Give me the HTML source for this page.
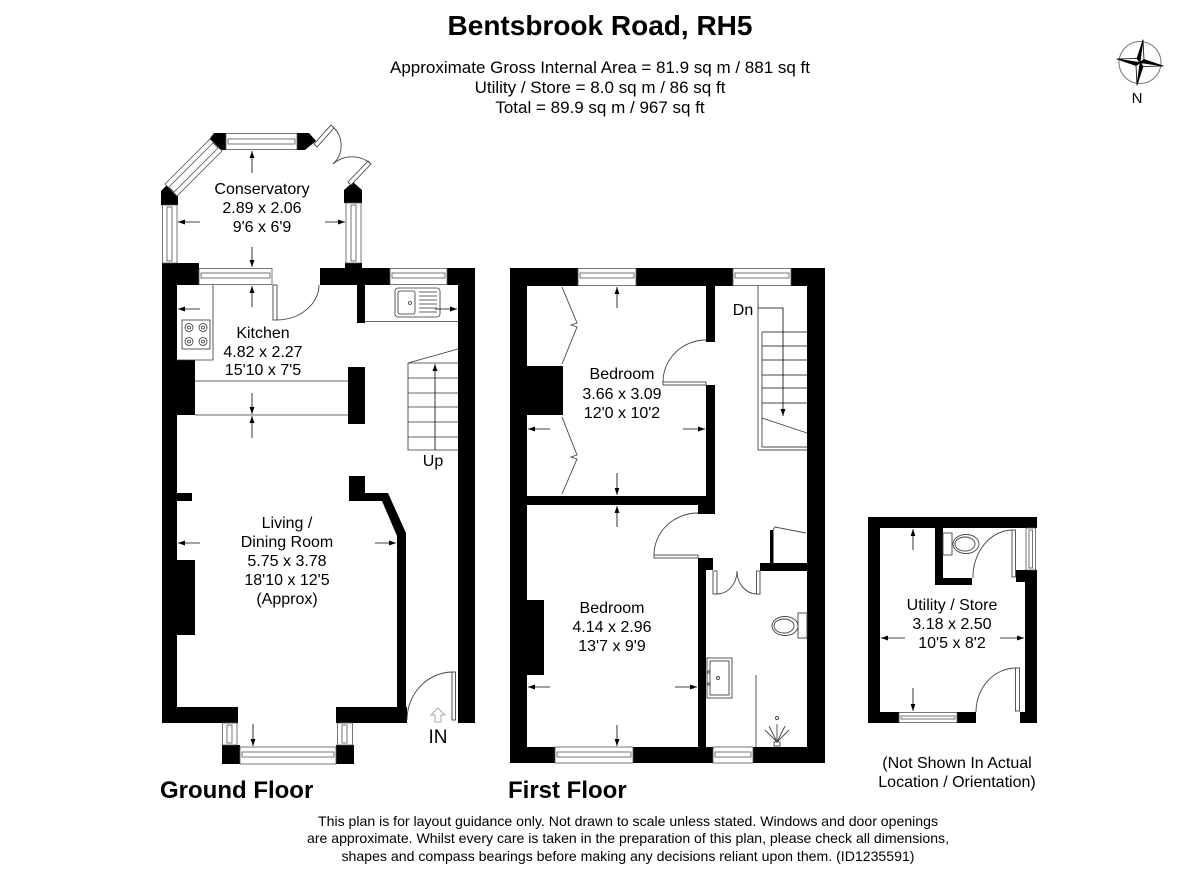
<!DOCTYPE html>
<html><head><meta charset="utf-8"><style>
html,body{margin:0;padding:0;background:#fff;}
svg{display:block;}
text{font-family:"Liberation Sans",Arial,sans-serif;fill:#000;}
</style></head><body>
<svg width="1200" height="879" viewBox="0 0 1200 879" xmlns="http://www.w3.org/2000/svg">
<defs>
<marker id="ar" viewBox="0 0 10 10" refX="10" refY="5" markerWidth="7" markerHeight="7" orient="auto" markerUnits="userSpaceOnUse"><path d="M0,1.5 L10,5 L0,8.5z" fill="#000"/></marker>
</defs>
<rect width="1200" height="879" fill="#fff"/>

<!-- Header -->
<text x="600" y="35" font-size="28" font-weight="bold" text-anchor="middle">Bentsbrook Road, RH5</text>
<text x="600" y="73" font-size="17" text-anchor="middle">Approximate Gross Internal Area = 81.9 sq m / 881 sq ft</text>
<text x="600" y="93" font-size="17" text-anchor="middle">Utility / Store = 8.0 sq m / 86 sq ft</text>
<text x="600" y="113" font-size="17" text-anchor="middle">Total = 89.9 sq m / 967 sq ft</text>

<!-- Compass -->
<circle cx="1140" cy="62.5" r="21" fill="none" stroke="#777" stroke-width="1"/>
<g stroke="#000" stroke-width="0.8" stroke-linejoin="round">
<polygon points="1140,62.5 1143,40 1137,58.5" fill="#000"/>
<polygon points="1140,62.5 1143,40 1144,59.5" fill="#fff"/>
<polygon points="1140,62.5 1163,66 1144,59.5" fill="#000"/>
<polygon points="1140,62.5 1163,66 1143,66.5" fill="#fff"/>
<polygon points="1140,62.5 1137,85 1143,66.5" fill="#000"/>
<polygon points="1140,62.5 1137,85 1136,65.5" fill="#fff"/>
<polygon points="1140,62.5 1117,59 1136,65.5" fill="#000"/>
<polygon points="1140,62.5 1117,59 1137,58.5" fill="#fff"/>
</g>
<text x="1137" y="103" font-size="15" text-anchor="middle">N</text>

<!-- ================= GROUND FLOOR ================= -->
<g fill="#000">
<polygon points="214,133 226,133 226,150 220,150 208,141"/>
<polygon points="297,133 309,133 316,141 305,150 297,150"/>
<polygon points="161,205 161,191 170,182 178,190 178,205"/>
<polygon points="344,203 344,190 353,182 362,190 362,203"/>
<rect x="162" y="263" width="37" height="22"/>
<rect x="162" y="263" width="15" height="460"/>
<rect x="320" y="268" width="70" height="17"/>
<rect x="345" y="263" width="17" height="6"/>
<rect x="447" y="268" width="28" height="17"/>
<rect x="458" y="268" width="17" height="455"/>
<rect x="357" y="285" width="8" height="38"/>
<rect x="162" y="360" width="33" height="55"/>
<rect x="348" y="367" width="17" height="57"/>
<polygon points="349,476 365,476 365,493 388,493 406,533 406,707 397,707 397,536 382,501 349,501"/>
<rect x="162" y="493" width="30" height="8"/>
<rect x="162" y="560" width="33" height="75"/>
<rect x="162" y="707" width="76" height="16"/>
<rect x="336" y="707" width="71" height="16"/>
<rect x="222" y="745" width="18" height="19"/>
<rect x="336" y="745" width="18" height="19"/>
</g>
<g fill="#fff" stroke="#555" stroke-width="0.8">
<rect x="226" y="133.5" width="71" height="16"/>
<rect x="228" y="139" width="67" height="5"/>
<polygon points="210,139 222,151 177,196 165,184"/>
<polygon points="213,143 218,148 174,192 169,187"/>
<rect x="162.5" y="205" width="14.5" height="58"/>
<rect x="167" y="207" width="5" height="54"/>
<rect x="346" y="203" width="15" height="60"/>
<rect x="351" y="205" width="5" height="56"/>
<rect x="199" y="268.5" width="73" height="16"/>
<rect x="201" y="273" width="69" height="5"/>
<rect x="390" y="268.5" width="57" height="16"/>
<rect x="392" y="273" width="53" height="5"/>
<rect x="222.5" y="723" width="14.5" height="22"/>
<rect x="227" y="725" width="5" height="18"/>
<rect x="337.5" y="723" width="15" height="22"/>
<rect x="342" y="725" width="5" height="18"/>
<rect x="240" y="747" width="96" height="17"/>
<rect x="242" y="752" width="92" height="5"/>
</g>
<g fill="none" stroke="#444" stroke-width="0.9">
<polygon points="314,144 331,125 334,128 317,147" fill="#fff"/>
<path d="M333,127 A25,25 0 0 1 334,163"/>
<polygon points="348,182 368,161 371,164 351,185" fill="#fff"/>
<path d="M370,163 A29,29 0 0 0 333,164"/>
<rect x="273" y="285" width="4" height="35" fill="#fff"/>
<path d="M277,320 A43,35 0 0 0 319,285"/>
<rect x="452" y="672" width="3.5" height="48" fill="#fff"/>
<path d="M452,672 A46,48 0 0 0 407,720"/>
</g>
<polygon points="438,708 445,715 441,715 441,722 435,722 435,715 431,715" fill="#fff" stroke="#aaa" stroke-width="1"/>
<g fill="none" stroke="#333" stroke-width="0.8">
<polyline points="177,360 213,360 213,285"/>
<rect x="182" y="320" width="28" height="29"/>
<circle cx="189" cy="327.5" r="4"/><circle cx="189" cy="327.5" r="1.5"/>
<circle cx="203" cy="327.5" r="4"/><circle cx="203" cy="327.5" r="1.5"/>
<circle cx="189" cy="341.5" r="4"/><circle cx="189" cy="341.5" r="1.5"/>
<circle cx="203" cy="341.5" r="4"/><circle cx="203" cy="341.5" r="1.5"/>
<line x1="365" y1="321.5" x2="458" y2="321.5"/>
<rect x="395" y="288" width="45" height="29" rx="3"/>
<rect x="398" y="291" width="17" height="23" rx="2"/>
<circle cx="410" cy="303" r="1.5"/>
<line x1="419" y1="292" x2="437" y2="292"/>
<line x1="419" y1="296" x2="437" y2="296"/>
<line x1="419" y1="300" x2="437" y2="300"/>
<line x1="419" y1="304" x2="437" y2="304"/>
<line x1="419" y1="308" x2="437" y2="308"/>
<line x1="419" y1="312" x2="437" y2="312"/>
<line x1="195" y1="381" x2="348" y2="381"/>
<line x1="195" y1="415" x2="348" y2="415"/>
<line x1="408" y1="363" x2="458" y2="349"/>
<polyline points="408,363 408,450 458,450"/>
<line x1="408" y1="363" x2="458" y2="363"/>
<line x1="408" y1="378" x2="458" y2="378"/>
<line x1="408" y1="393" x2="458" y2="393"/>
<line x1="408" y1="407" x2="458" y2="407"/>
<line x1="408" y1="422" x2="458" y2="422"/>
<line x1="408" y1="437" x2="458" y2="437"/>
</g>
<line x1="435" y1="450" x2="435" y2="364" stroke="#000" stroke-width="0.8" marker-end="url(#ar)"/>

<!-- ================= FIRST FLOOR ================= -->
<g fill="#000">
<rect x="510" y="268" width="17" height="495"/>
<rect x="510" y="268" width="68" height="18"/>
<rect x="636" y="268" width="97" height="18"/>
<rect x="791" y="268" width="34" height="18"/>
<rect x="807" y="268" width="18" height="495"/>
<rect x="510" y="747" width="45" height="16"/>
<rect x="633" y="747" width="80" height="16"/>
<rect x="753" y="747" width="72" height="16"/>
<rect x="706" y="286" width="9" height="56"/>
<rect x="706" y="385" width="9" height="120"/>
<rect x="527" y="366" width="36" height="49"/>
<rect x="510" y="496" width="205" height="9"/>
<rect x="698" y="505" width="17" height="9"/>
<rect x="698" y="558" width="8" height="189"/>
<rect x="698" y="558" width="15" height="12"/>
<rect x="760" y="563" width="47" height="8"/>
<rect x="770" y="530" width="3.5" height="33"/>
<rect x="527" y="600" width="17" height="75"/>
</g>
<g fill="#fff" stroke="#555" stroke-width="0.8">
<rect x="578" y="268.5" width="58" height="17"/>
<rect x="580" y="273" width="54" height="5"/>
<rect x="733" y="268.5" width="58" height="17"/>
<rect x="735" y="273" width="54" height="5"/>
<rect x="555" y="747" width="78" height="16"/>
<rect x="557" y="752" width="74" height="5"/>
<rect x="713" y="747" width="40" height="16"/>
<rect x="715" y="752" width="36" height="5"/>
</g>
<g fill="none" stroke="#444" stroke-width="0.9">
<rect x="663" y="382" width="43" height="3" fill="#fff"/>
<path d="M663,382 A43,42 0 0 1 706,340"/>
<rect x="654" y="555" width="44" height="3" fill="#fff"/>
<path d="M654,555 A44,42 0 0 1 698,513"/>
<rect x="713" y="571" width="4" height="23" fill="#fff"/>
<rect x="756.5" y="571" width="3.5" height="23" fill="#fff"/>
<path d="M717,594 A20,23 0 0 0 737,571"/>
<path d="M756.5,594 A20,23 0 0 1 737,571"/>
<polyline points="773,530 775,527 806,533"/>
<polyline points="562,287 577,323 571,325 577,327 562,364"/>
<polyline points="562,417 577,455 571,457 577,459 562,494"/>
<line x1="758" y1="286" x2="758" y2="450"/>
<line x1="758" y1="450" x2="807" y2="450"/>
<line x1="762" y1="332" x2="762" y2="447"/>
<line x1="762" y1="447" x2="807" y2="447"/>
<line x1="762" y1="332" x2="807" y2="332"/>
<line x1="762" y1="346" x2="807" y2="346"/>
<line x1="762" y1="360" x2="807" y2="360"/>
<line x1="762" y1="375" x2="807" y2="375"/>
<line x1="762" y1="388" x2="807" y2="388"/>
<line x1="762" y1="403" x2="807" y2="403"/>
<line x1="762" y1="418" x2="807" y2="433"/>
<rect x="798" y="613" width="9" height="25" fill="#fff"/>
<ellipse cx="785" cy="626" rx="13" ry="9.5"/>
<ellipse cx="784" cy="626" rx="10" ry="7"/>
<rect x="707" y="658" width="25" height="40"/>
<rect x="710" y="661" width="19" height="34"/>
<circle cx="709" cy="672" r="1.2"/><circle cx="709" cy="684" r="1.2"/><circle cx="718" cy="678" r="1.5"/>
<line x1="756" y1="675" x2="756" y2="747"/>
<circle cx="777" cy="718" r="1.5"/>
<line x1="777" y1="742" x2="765" y2="730"/>
<line x1="777" y1="742" x2="769" y2="726"/>
<line x1="777" y1="742" x2="777" y2="724"/>
<line x1="777" y1="742" x2="785" y2="726"/>
<line x1="777" y1="742" x2="789" y2="730"/>
<rect x="774" y="742" width="6" height="4"/>
</g>
<polyline points="758,308 783,308 783,416" fill="none" stroke="#000" stroke-width="0.8" marker-end="url(#ar)"/>

<!-- ================= UTILITY ================= -->
<g fill="#000">
<rect x="868" y="517" width="169" height="11"/>
<rect x="868" y="517" width="12" height="206"/>
<rect x="868" y="712" width="31" height="11"/>
<rect x="957" y="712" width="19" height="11"/>
<rect x="1020" y="712" width="17" height="11"/>
<rect x="1016" y="570" width="21" height="12"/>
<rect x="1025" y="570" width="12" height="153"/>
<rect x="935" y="528" width="8" height="57"/>
<rect x="935" y="578" width="37" height="7"/>
</g>
<g fill="#fff" stroke="#555" stroke-width="0.8">
<rect x="1026" y="528" width="9.5" height="42"/>
<rect x="1029" y="530" width="3.5" height="38"/>
<rect x="899" y="712.5" width="58" height="10"/>
<rect x="901" y="716" width="54" height="3"/>
</g>
<g fill="none" stroke="#444" stroke-width="0.9">
<rect x="943" y="533" width="9" height="22" fill="#fff"/>
<ellipse cx="966" cy="544" rx="13" ry="9.5"/>
<ellipse cx="965" cy="544" rx="10" ry="7"/>
<rect x="1012" y="530" width="3.5" height="47" fill="#fff"/>
<path d="M1012,530 A40,47 0 0 0 973,578"/>
<rect x="1015.5" y="668" width="4" height="43" fill="#fff"/>
<path d="M1015.5,668 A40,44 0 0 0 976,712"/>
</g>

<!-- dimension arrows -->
<g stroke="#000" stroke-width="0.8" marker-end="url(#ar)">
<line x1="252" y1="173" x2="252" y2="151"/>
<line x1="252" y1="247" x2="252" y2="267"/>
<line x1="200" y1="222" x2="178" y2="222"/>
<line x1="325" y1="222" x2="345" y2="222"/>
<line x1="252" y1="307" x2="252" y2="286"/>
<line x1="252" y1="393" x2="252" y2="414"/>
<line x1="200" y1="309" x2="178" y2="309"/>
<line x1="435" y1="309" x2="457" y2="309"/>
<line x1="252" y1="438" x2="252" y2="416"/>
<line x1="200" y1="543" x2="178" y2="543"/>
<line x1="375" y1="543" x2="396" y2="543"/>
<line x1="253" y1="724" x2="253" y2="746"/>
<line x1="617" y1="308" x2="617" y2="287"/>
<line x1="617" y1="473" x2="617" y2="495"/>
<line x1="550" y1="429" x2="528" y2="429"/>
<line x1="683" y1="429" x2="705" y2="429"/>
<line x1="617" y1="527" x2="617" y2="506"/>
<line x1="617" y1="725" x2="617" y2="746"/>
<line x1="550" y1="687" x2="528" y2="687"/>
<line x1="675" y1="687" x2="697" y2="687"/>
<line x1="913" y1="550" x2="913" y2="529"/>
<line x1="913" y1="688" x2="913" y2="711"/>
<line x1="905" y1="638" x2="881" y2="638"/>
<line x1="1000" y1="638" x2="1024" y2="638"/>
</g>

<g font-size="16" text-anchor="middle">
<text x="262" y="194">Conservatory</text>
<text x="262" y="213">2.89 x 2.06</text>
<text x="262" y="232">9'6 x 6'9</text>
<text x="263" y="338">Kitchen</text>
<text x="263" y="357">4.82 x 2.27</text>
<text x="263" y="375">15'10 x 7'5</text>
<text x="433" y="466">Up</text>
<text x="287" y="528">Living /</text>
<text x="287" y="547">Dining Room</text>
<text x="287" y="566">5.75 x 3.78</text>
<text x="287" y="585">18'10 x 12'5</text>
<text x="287" y="604">(Approx)</text>
<text x="622" y="379">Bedroom</text>
<text x="622" y="399">3.66 x 3.09</text>
<text x="622" y="418">12'0 x 10'2</text>
<text x="743" y="315">Dn</text>
<text x="612" y="613">Bedroom</text>
<text x="612" y="632">4.14 x 2.96</text>
<text x="612" y="651">13'7 x 9'9</text>
<text x="952" y="610">Utility / Store</text>
<text x="952" y="629">3.18 x 2.50</text>
<text x="952" y="648">10'5 x 8'2</text>
<text x="957" y="768">(Not Shown In Actual</text>
<text x="957" y="787">Location / Orientation)</text>
</g>
<text x="438" y="743" font-size="19" text-anchor="middle">IN</text>

<text x="160" y="798" font-size="24" font-weight="bold">Ground Floor</text>
<text x="508" y="798" font-size="24" font-weight="bold">First Floor</text>

<g font-size="14" text-anchor="middle">
<text x="628" y="826" textLength="620" lengthAdjust="spacingAndGlyphs">This plan is for layout guidance only. Not drawn to scale unless stated. Windows and door openings</text>
<text x="628" y="843" textLength="642" lengthAdjust="spacingAndGlyphs">are approximate. Whilst every care is taken in the preparation of this plan, please check all dimensions,</text>
<text x="628" y="861" textLength="573" lengthAdjust="spacingAndGlyphs">shapes and compass bearings before making any decisions reliant upon them. (ID1235591)</text>
</g>
</svg>
</body></html>
